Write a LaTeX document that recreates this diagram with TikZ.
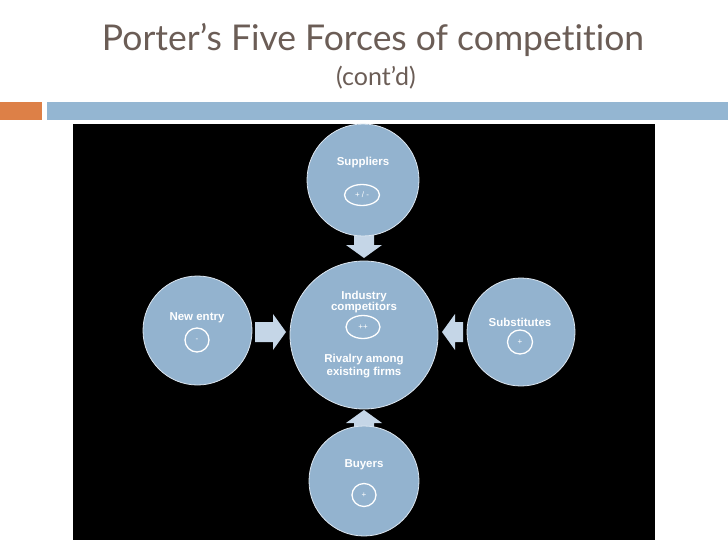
\documentclass[tikz,border=0pt]{standalone}
\usepackage{fontspec}
\setmainfont{Liberation Sans}
\newfontfamily\titlefont[Ligatures={NoCommon}]{Lato}
\usetikzlibrary{shapes.geometric}
\definecolor{titlecol}{HTML}{6B5D56}
\definecolor{barblue}{HTML}{94B6D2}
\definecolor{barorange}{HTML}{DD8047}
\definecolor{circfill}{HTML}{93B3CF}
\definecolor{circline}{HTML}{DCE6F0}
\definecolor{arrfill}{HTML}{C5D6E7}
\tikzset{
  force/.style={circle, fill=circfill, draw=circline, line width=0.8pt, minimum size=#1, inner sep=0pt},
  lbl/.style={text=white, font=\bfseries\fontsize{11.5}{12}\selectfont, align=center, inner sep=0pt},
  sign/.style={ellipse, draw=white, line width=1.3pt, text=white, font=\fontsize{8}{9}\selectfont, inner sep=0pt, minimum width=#1, minimum height=22pt},
  fatarrow/.pic={\fill[arrfill] (-#1,-10) -- (-13,-10) -- (-13,-18) -- (0,0) -- (-13,18) -- (-13,10) -- (-#1,10) -- cycle;},
}
\begin{document}
\begin{tikzpicture}[x=1pt,y=-1pt]
\useasboundingbox (0,0) rectangle (728,546);
\fill[white] (0,0) rectangle (728,546);
% title
\node[text=titlecol, font=\titlefont\fontsize{35.5}{38}\selectfont, anchor=base] (title) at (373,50) {Porter’s Five Forces of competition};
\node[text=titlecol, font=\titlefont\fontsize{25}{27}\selectfont, anchor=base] (sub) at (376,85) {(cont’d)};
% bars
\fill[barorange] (0,102) rectangle (42,120);
\fill[barblue] (47,102) rectangle (728,120);
% black panel
\fill[black] (73,123.5) rectangle (655,540);
% arrows
\coordinate (tipA) at (364,258);
\coordinate (tipB) at (364,410);
\coordinate (tipC) at (286,332);
\coordinate (tipD) at (442,332);
\pic[rotate=-90] at (tipA) {fatarrow=23};
\pic[rotate=90] at (tipB) {fatarrow=17};
\pic at (tipC) {fatarrow=31};
\pic[rotate=180] at (tipD) {fatarrow=21};
% circles
\node[force=148pt] (center) at (364,335) {};
\node[force=112pt] (sup) at (363,180) {};
\node[force=110pt] (buy) at (364,481) {};
\node[force=109pt] (new) at (197.5,330.5) {};
\node[force=108pt] (subs) at (521,332) {};
% labels
\node[lbl] (tsup) at (363,163) {Suppliers};
\node[sign=35pt, minimum height=21pt] (ssup) at (362,195) {+ / -};
\node[lbl] (tbuy) at (364,465) {Buyers};
\node[sign=24pt, minimum height=23pt] (sbuy) at (364,495) {+};
\node[lbl] (tnew) at (197,318) {New entry};
\node[sign=24pt, minimum height=24pt] (snew) at (197,340) {-};
\node[lbl] (tsubs) at (520,322) {Substitutes};
\node[sign=25pt, minimum height=24pt] (ssubs) at (520,342) {+};
\node[lbl, font=\bfseries\fontsize{11.5}{11}\selectfont] (tind) at (364,302) {Industry\\competitors};
\node[sign=34pt, minimum height=23pt] (sind) at (363,327) {++};
\node[lbl, font=\bfseries\fontsize{11.5}{13}\selectfont] (triv) at (364,366) {Rivalry among\\existing firms};
\end{tikzpicture}
\end{document}
